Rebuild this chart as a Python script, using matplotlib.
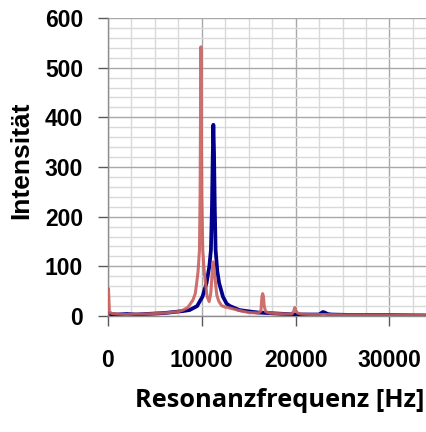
import matplotlib
matplotlib.use("Agg")
import matplotlib.pyplot as plt
from matplotlib.ticker import MultipleLocator

# Red series (frequency in Hz, intensity)
red_freq = [0, 50, 150, 400, 1000, 2000, 3000, 4000, 5000, 6000, 7000, 7500, 8000, 8500,
            9050, 9300, 9450, 9600, 9750, 9820, 9860, 9900, 9950, 10000, 10100, 10250,
            10400, 10550, 10780, 10950, 11030, 11150, 11220, 11300, 11460, 11600, 11800,
            12100, 12500, 13000, 14000, 15000, 16000, 16300, 16400, 16480, 16560, 16650,
            16800, 17200, 18000, 19000, 19600, 19800, 19900, 20000, 20200, 20600, 21500,
            23000, 26000, 30000, 34000]
red_int = [3, 55, 9, 5, 4, 3, 4, 4, 5, 6, 8, 9, 12, 17,
           32, 45, 66, 90, 133, 250, 400, 542, 380, 240, 133, 90,
           66, 40, 29, 45, 66, 100, 109, 95, 66, 42, 30,
           21, 18, 16, 11, 7, 6, 10, 38, 45, 40, 20,
           9, 6, 5, 4, 4, 10, 17, 11, 6, 4, 3,
           3, 2, 2, 2]

# Blue series (frequency in Hz, intensity)
blue_freq = [0, 200, 1000, 2000, 3000, 4000, 5000, 6000, 7000, 8000, 8700, 9500, 10070,
             10500, 10800, 10970, 11080, 11160, 11230, 11300, 11380, 11470, 11650, 11850,
             12250, 12640, 13000, 14000, 15120, 16000, 17000, 18000, 19000,
             20000, 21000, 22500, 22900, 23100, 23400, 23800, 26000, 30000, 34000]
blue_int = [5, 4, 3, 4, 3, 4, 5, 6, 8, 10, 12, 20, 39,
            66, 100, 133, 220, 320, 385, 330, 220, 133, 90, 66,
            39, 25, 20, 12, 9, 7, 6, 5, 4,
            3, 3, 3, 8, 7, 4, 3, 2, 2, 1]

y_ticks = [0, 100, 200, 300, 400, 500, 600]
x_ticks = [0, 10000, 20000, 30000]

fig = plt.figure(figsize=(4.27, 4.32), dpi=100)
ax = fig.add_axes([108 / 427, 1 - 316 / 432, 319 / 427, 298 / 432])

ax.plot(blue_freq, blue_int, color="#00008B", lw=2.7, zorder=3)
ax.plot(red_freq, red_int, color="#C9605D", lw=2.2, alpha=0.9, zorder=4)

ax.set_xlim(0, 34000)
ax.set_ylim(0, 600)
ax.set_xticks(x_ticks)
ax.set_yticks(y_ticks)
ax.xaxis.set_minor_locator(MultipleLocator(2500))
ax.yaxis.set_minor_locator(MultipleLocator(20))

ax.grid(which="major", color="#A8A8A8", lw=1.0, zorder=0)
ax.grid(which="minor", color="#D9D9D9", lw=1.0, zorder=0)
ax.set_axisbelow(True)

for s in ["top", "right"]:
    ax.spines[s].set_visible(False)
for s in ["left", "bottom"]:
    ax.spines[s].set_color("#8C8C8C")
    ax.spines[s].set_linewidth(1.0)

tick_font = dict(family="Liberation Sans", weight="bold", size=16.5)
ax.tick_params(axis="both", which="major", length=7, color="#595959", width=1.0)
ax.tick_params(axis="y", which="major", pad=11)
ax.tick_params(axis="x", which="major", pad=17)
ax.tick_params(which="minor", length=0)
ax.set_xticklabels([str(v) for v in x_ticks], **tick_font)
ax.set_yticklabels([str(v) for v in y_ticks], **tick_font)

ax.set_ylabel("Intensität", family="Liberation Sans", weight="bold", size=19,
              va="center")
ax.yaxis.set_label_coords(-0.273, 0.523)
ax.set_xlabel("Resonanzfrequenz [Hz]", family="Open Sans", weight="bold", size=18.3,
              va="center")
ax.xaxis.set_label_coords(0.539, -0.282)

fig.savefig("out.png", dpi=100)
